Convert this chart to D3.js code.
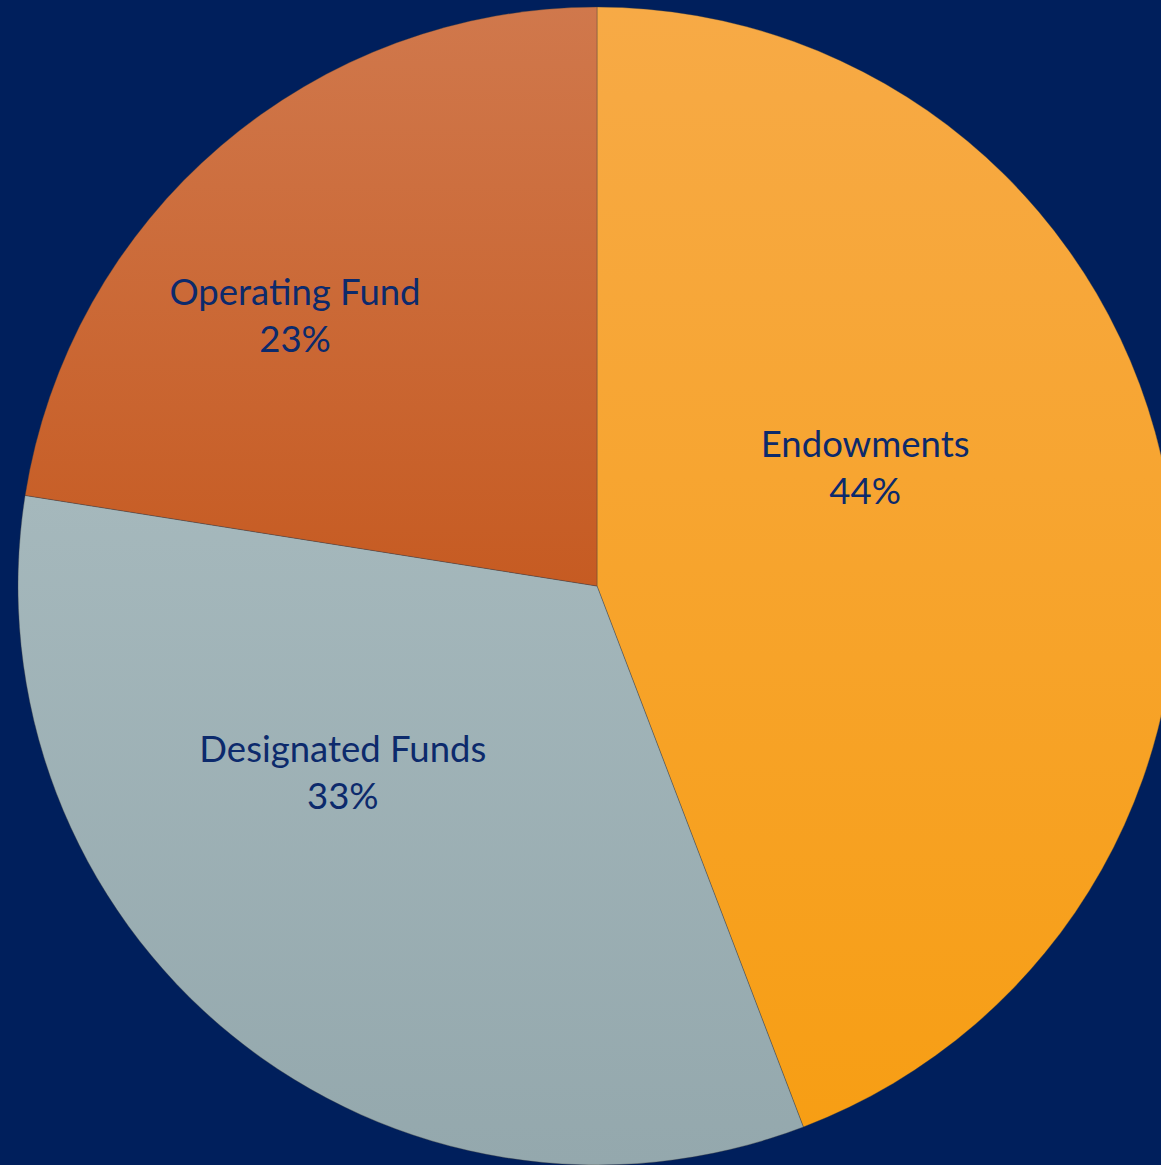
<!DOCTYPE html>
<html>
<head>
<meta charset="utf-8">
<script src="https://cdn.jsdelivr.net/npm/d3@7"></script>
<style>
  html, body { margin: 0; padding: 0; background: #001F5C; overflow: hidden; }
  svg { display: block; }
</style>
</head>
<body>
<svg id="chart" width="1161" height="1165"></svg>
<script>
// ---- data ----
const categories = ["Endowments", "Designated Funds", "Operating Fund"];
const values = [44.2, 33.3, 22.5];
const percentLabels = ["44%", "33%", "23%"];

// ---- style / layout ----
const W = 1161, H = 1165;
const cx = 597, cy = 586, R = 579;
const gradients = {
  "Endowments": ["#F7AA46", "#F79E14"],
  "Designated Funds": ["#A5B8BC", "#94A8AD"],
  "Operating Fund": ["#D0784C", "#C65B22"]
};
// label anchor: [angle in degrees clockwise from 12 o'clock, radius fraction]
const labelPlacement = {
  "Endowments": [64.3, 0.514],
  "Designated Funds": [235.3, 0.534],
  "Operating Fund": [312.9, 0.712]
};
const textColor = "#0C2A6C";
const fontSize = 36.5;
const lineGap = 47;

const svg = d3.select("#chart");
svg.append("rect").attr("width", W).attr("height", H).attr("fill", "#001F5C");

const defs = svg.append("defs");
categories.forEach((c, i) => {
  const g = defs.append("linearGradient")
    .attr("id", "grad" + i)
    .attr("x1", 0).attr("y1", 0).attr("x2", 0).attr("y2", 1);
  g.append("stop").attr("offset", "0%").attr("stop-color", gradients[c][0]);
  g.append("stop").attr("offset", "100%").attr("stop-color", gradients[c][1]);
});

const data = categories.map((c, i) => ({ name: c, value: values[i], label: percentLabels[i], idx: i }));
const pie = d3.pie().value(d => d.value).sort(null);
const arc = d3.arc().innerRadius(0).outerRadius(R);

const g = svg.append("g").attr("transform", `translate(${cx},${cy})`);
const arcs = pie(data);

g.selectAll("path.slice")
  .data(arcs)
  .join("path")
  .attr("class", "slice")
  .attr("d", arc)
  .attr("fill", d => `url(#grad${d.data.idx})`)
  .attr("stroke", "rgba(60,60,60,0.35)")
  .attr("stroke-width", 1);

const labels = g.selectAll("g.label")
  .data(arcs)
  .join("g")
  .attr("class", "label")
  .attr("transform", d => {
    const [deg, frac] = labelPlacement[d.data.name];
    const a = deg * Math.PI / 180;
    return `translate(${Math.sin(a) * R * frac},${-Math.cos(a) * R * frac})`;
  });

labels.append("text")
  .attr("text-anchor", "middle")
  .attr("font-family", "Lato, 'Open Sans', sans-serif")
  .attr("font-size", fontSize)
  .attr("fill", textColor)
  .text(d => d.data.name);

labels.append("text")
  .attr("text-anchor", "middle")
  .attr("y", lineGap)
  .attr("font-family", "Lato, 'Open Sans', sans-serif")
  .attr("font-size", fontSize)
  .attr("fill", textColor)
  .text(d => d.data.label);
</script>
</body>
</html>
